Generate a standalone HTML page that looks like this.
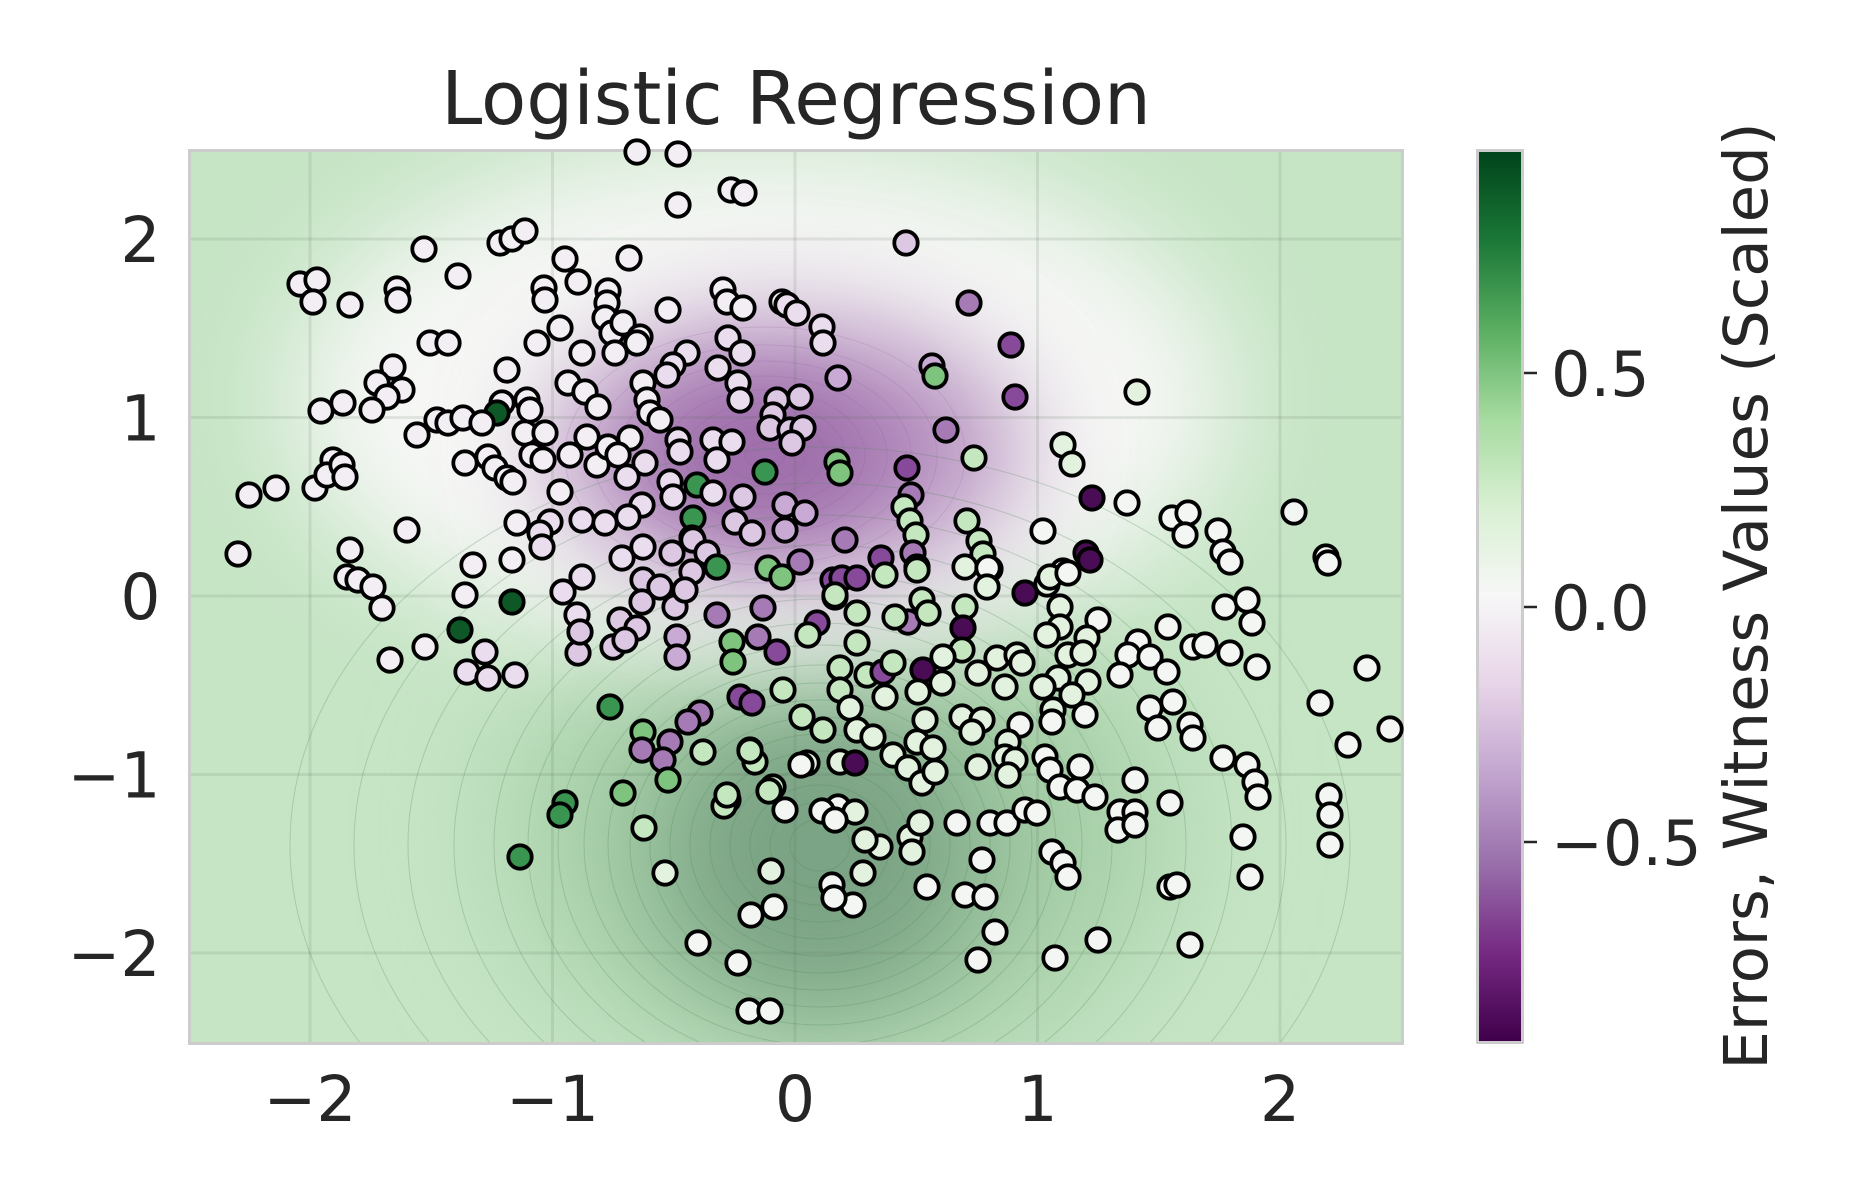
<!DOCTYPE html>
<html><head><meta charset="utf-8"><style>
html,body{margin:0;padding:0;background:#fff}
svg{display:block}
.pts circle{stroke:#000;stroke-width:3.8px}
.w{fill:#f2eef4}.wg{fill:#f4f6f3}.l{fill:#e9ddee}.lm{fill:#dcc8e3}.pl{fill:#c9aad4}.pm{fill:#a67bb5}.p2{fill:#87499a}.p3{fill:#4a0c55}
.gp{fill:#e2f2de}.g1{fill:#c5e7c0}.g2{fill:#7fc47e}.g3{fill:#3a9550}.g4{fill:#0e5726}
text{font-family:"DejaVu Sans","Liberation Sans",sans-serif;fill:#262626}
</style></head><body>
<svg width="1860" height="1200" viewBox="0 0 1860 1200" xmlns="http://www.w3.org/2000/svg">
<defs>
<clipPath id="pc"><rect x="191" y="152" width="1210" height="890"/></clipPath>
<filter id="b70" x="-50%" y="-50%" width="200%" height="200%"><feGaussianBlur stdDeviation="70"/></filter>
<filter id="b55" x="-50%" y="-50%" width="200%" height="200%"><feGaussianBlur stdDeviation="55"/></filter>
<filter id="b40" x="-50%" y="-50%" width="200%" height="200%"><feGaussianBlur stdDeviation="40"/></filter>
<linearGradient id="cb" x1="0" y1="1" x2="0" y2="0">
<stop offset="0" stop-color="#40004b"/><stop offset="0.1" stop-color="#762a83"/><stop offset="0.2" stop-color="#9970ab"/><stop offset="0.3" stop-color="#c2a5cf"/><stop offset="0.4" stop-color="#e7d4e8"/><stop offset="0.5" stop-color="#f7f7f7"/><stop offset="0.6" stop-color="#d9f0d3"/><stop offset="0.7" stop-color="#a6dba0"/><stop offset="0.8" stop-color="#5aae61"/><stop offset="0.9" stop-color="#1b7837"/><stop offset="1" stop-color="#00441b"/>
</linearGradient>
</defs>

<g clip-path="url(#pc)">
<rect x="180" y="140" width="1240" height="920" fill="#c6e5c5"/>
<ellipse cx="840" cy="830" rx="330" ry="240" fill="#a4cda6" filter="url(#b70)"/>
<ellipse cx="820" cy="855" rx="160" ry="160" fill="#7aa384" filter="url(#b55)"/>
<ellipse cx="760" cy="400" rx="470" ry="255" fill="#f6f7f5" filter="url(#b55)"/>
<ellipse cx="785" cy="450" rx="235" ry="130" fill="#b48dbe" filter="url(#b55)"/>
<ellipse cx="765" cy="455" rx="120" ry="75" fill="#9e6eaa" filter="url(#b40)"/>
<g fill="none" stroke="#4f8a5b" stroke-opacity="0.28" stroke-width="1">
<ellipse cx="820" cy="845" rx="30" ry="26"/><ellipse cx="820" cy="845" rx="50" ry="43"/><ellipse cx="820" cy="845" rx="70" ry="60"/><ellipse cx="820" cy="845" rx="90" ry="77"/><ellipse cx="820" cy="845" rx="110" ry="94"/><ellipse cx="820" cy="845" rx="130" ry="111"/><ellipse cx="820" cy="845" rx="150" ry="128"/><ellipse cx="820" cy="845" rx="170" ry="145"/><ellipse cx="820" cy="845" rx="190" ry="162"/><ellipse cx="820" cy="845" rx="212" ry="180"/><ellipse cx="820" cy="845" rx="236" ry="200"/><ellipse cx="820" cy="845" rx="262" ry="222"/><ellipse cx="820" cy="845" rx="292" ry="246"/><ellipse cx="820" cy="845" rx="326" ry="272"/><ellipse cx="820" cy="845" rx="366" ry="300"/><ellipse cx="820" cy="845" rx="412" ry="330"/><ellipse cx="820" cy="845" rx="466" ry="362"/><ellipse cx="820" cy="845" rx="530" ry="398"/>
</g>
<g fill="none" stroke="#8a5597" stroke-opacity="0.18" stroke-width="0.9">
<ellipse cx="765" cy="455" rx="20" ry="13"/><ellipse cx="765" cy="455" rx="40" ry="26"/><ellipse cx="765" cy="455" rx="60" ry="39"/><ellipse cx="765" cy="455" rx="80" ry="52"/><ellipse cx="765" cy="455" rx="100" ry="65"/><ellipse cx="765" cy="455" rx="122" ry="79"/><ellipse cx="765" cy="455" rx="146" ry="94"/><ellipse cx="765" cy="455" rx="172" ry="110"/><ellipse cx="765" cy="455" rx="200" ry="128"/>
</g>
<g stroke="#5a6e5a" stroke-opacity="0.14" stroke-width="3">
<line x1="310" y1="150" x2="310" y2="1045"/><line x1="552.5" y1="150" x2="552.5" y2="1045"/><line x1="795" y1="150" x2="795" y2="1045"/><line x1="1037.5" y1="150" x2="1037.5" y2="1045"/><line x1="1280" y1="150" x2="1280" y2="1045"/>
<line x1="188" y1="239" x2="1404" y2="239"/><line x1="188" y1="417.5" x2="1404" y2="417.5"/><line x1="188" y1="596" x2="1404" y2="596"/><line x1="188" y1="774.5" x2="1404" y2="774.5"/><line x1="188" y1="953" x2="1404" y2="953"/>
</g>
</g>
<rect x="189.5" y="150.5" width="1213" height="893" fill="none" stroke="#cccccc" stroke-width="3"/>

<g class="pts">
<circle cx="637" cy="152" r="11.7" class="w"/><circle cx="678" cy="154" r="11.7" class="w"/><circle cx="731" cy="190" r="11.7" class="w"/><circle cx="744" cy="193" r="11.7" class="w"/><circle cx="678" cy="205" r="11.7" class="w"/><circle cx="906" cy="243" r="11.7" class="lm"/><circle cx="424" cy="249" r="11.7" class="w"/><circle cx="500" cy="243" r="11.7" class="w"/><circle cx="512" cy="239" r="11.7" class="w"/><circle cx="525" cy="231" r="11.7" class="w"/><circle cx="300" cy="284" r="11.7" class="w"/><circle cx="317" cy="280" r="11.7" class="w"/><circle cx="313" cy="302" r="11.7" class="w"/><circle cx="397" cy="289" r="11.7" class="w"/><circle cx="458" cy="276" r="11.7" class="w"/><circle cx="565" cy="259" r="11.7" class="w"/><circle cx="629" cy="258" r="11.7" class="w"/><circle cx="544" cy="288" r="11.7" class="w"/><circle cx="578" cy="282" r="11.7" class="w"/><circle cx="608" cy="291" r="11.7" class="w"/><circle cx="723" cy="290" r="11.7" class="w"/><circle cx="782" cy="302" r="11.7" class="w"/>
<circle cx="321" cy="411" r="11.7" class="w"/><circle cx="333" cy="460" r="11.7" class="w"/><circle cx="315" cy="488" r="11.7" class="w"/><circle cx="327" cy="475" r="11.7" class="w"/><circle cx="249" cy="495" r="11.7" class="w"/><circle cx="276" cy="488" r="11.7" class="w"/><circle cx="238" cy="554" r="11.7" class="w"/>
<circle cx="350" cy="305" r="11.7" class="w"/><circle cx="398" cy="300" r="11.7" class="w"/><circle cx="545" cy="300" r="11.7" class="w"/><circle cx="607" cy="303" r="11.7" class="w"/><circle cx="668" cy="310" r="11.7" class="w"/><circle cx="727" cy="302" r="11.7" class="w"/><circle cx="743" cy="308" r="11.7" class="w"/><circle cx="787" cy="305" r="11.7" class="l"/><circle cx="797" cy="313" r="11.7" class="l"/><circle cx="822" cy="327" r="11.7" class="l"/><circle cx="823" cy="343" r="11.7" class="l"/><circle cx="430" cy="343" r="11.7" class="w"/><circle cx="448" cy="343" r="11.7" class="w"/><circle cx="537" cy="343" r="11.7" class="w"/><circle cx="560" cy="328" r="11.7" class="w"/><circle cx="605" cy="318" r="11.7" class="w"/><circle cx="612" cy="333" r="11.7" class="w"/><circle cx="623" cy="323" r="11.7" class="w"/><circle cx="640" cy="337" r="11.7" class="w"/><circle cx="637" cy="343" r="11.7" class="w"/><circle cx="615" cy="353" r="11.7" class="w"/><circle cx="582" cy="353" r="11.7" class="w"/><circle cx="687" cy="353" r="11.7" class="l"/><circle cx="673" cy="365" r="11.7" class="l"/><circle cx="667" cy="375" r="11.7" class="l"/><circle cx="728" cy="338" r="11.7" class="l"/><circle cx="742" cy="353" r="11.7" class="l"/><circle cx="718" cy="368" r="11.7" class="l"/><circle cx="738" cy="383" r="11.7" class="l"/><circle cx="740" cy="400" r="11.7" class="l"/><circle cx="838" cy="378" r="11.7" class="pl"/>
<circle cx="393" cy="367" r="11.7" class="w"/><circle cx="377" cy="383" r="11.7" class="w"/><circle cx="402" cy="390" r="11.7" class="w"/><circle cx="387" cy="397" r="11.7" class="w"/><circle cx="372" cy="410" r="11.7" class="w"/><circle cx="343" cy="403" r="11.7" class="w"/><circle cx="507" cy="370" r="11.7" class="w"/><circle cx="568" cy="383" r="11.7" class="w"/><circle cx="585" cy="392" r="11.7" class="w"/><circle cx="598" cy="407" r="11.7" class="w"/><circle cx="643" cy="383" r="11.7" class="w"/><circle cx="647" cy="400" r="11.7" class="w"/><circle cx="650" cy="413" r="11.7" class="w"/><circle cx="660" cy="420" r="11.7" class="w"/><circle cx="777" cy="400" r="11.7" class="lm"/><circle cx="800" cy="397" r="11.7" class="lm"/><circle cx="773" cy="415" r="11.7" class="lm"/><circle cx="770" cy="428" r="11.7" class="lm"/><circle cx="790" cy="430" r="11.7" class="lm"/><circle cx="803" cy="428" r="11.7" class="lm"/><circle cx="792" cy="443" r="11.7" class="lm"/>
<circle cx="502" cy="403" r="11.7" class="w"/><circle cx="497" cy="413" r="11.7" class="g4"/><circle cx="527" cy="400" r="11.7" class="w"/><circle cx="530" cy="410" r="11.7" class="w"/><circle cx="417" cy="435" r="11.7" class="w"/><circle cx="437" cy="420" r="11.7" class="w"/><circle cx="448" cy="423" r="11.7" class="w"/><circle cx="463" cy="418" r="11.7" class="w"/><circle cx="482" cy="423" r="11.7" class="w"/><circle cx="525" cy="433" r="11.7" class="w"/><circle cx="545" cy="433" r="11.7" class="w"/><circle cx="532" cy="455" r="11.7" class="w"/><circle cx="543" cy="460" r="11.7" class="w"/><circle cx="587" cy="437" r="11.7" class="w"/><circle cx="570" cy="455" r="11.7" class="w"/><circle cx="597" cy="465" r="11.7" class="w"/><circle cx="630" cy="438" r="11.7" class="w"/><circle cx="608" cy="447" r="11.7" class="w"/><circle cx="618" cy="455" r="11.7" class="w"/><circle cx="678" cy="440" r="11.7" class="l"/><circle cx="680" cy="452" r="11.7" class="l"/><circle cx="713" cy="440" r="11.7" class="l"/><circle cx="732" cy="442" r="11.7" class="l"/><circle cx="717" cy="460" r="11.7" class="l"/>
<circle cx="465" cy="463" r="11.7" class="w"/><circle cx="488" cy="457" r="11.7" class="w"/><circle cx="495" cy="468" r="11.7" class="w"/><circle cx="507" cy="478" r="11.7" class="w"/><circle cx="513" cy="482" r="11.7" class="w"/><circle cx="560" cy="492" r="11.7" class="w"/><circle cx="645" cy="463" r="11.7" class="l"/><circle cx="627" cy="477" r="11.7" class="l"/><circle cx="670" cy="482" r="11.7" class="l"/><circle cx="697" cy="485" r="11.7" class="g3"/><circle cx="765" cy="472" r="11.7" class="g3"/><circle cx="713" cy="493" r="11.7" class="l"/><circle cx="743" cy="497" r="11.7" class="lm"/><circle cx="837" cy="462" r="11.7" class="g2"/><circle cx="840" cy="473" r="11.7" class="g2"/><circle cx="342" cy="465" r="11.7" class="w"/><circle cx="345" cy="477" r="11.7" class="w"/>
<circle cx="517" cy="523" r="11.7" class="w"/><circle cx="550" cy="522" r="11.7" class="l"/><circle cx="540" cy="533" r="11.7" class="l"/><circle cx="542" cy="547" r="11.7" class="l"/><circle cx="582" cy="520" r="11.7" class="l"/><circle cx="605" cy="523" r="11.7" class="l"/><circle cx="642" cy="505" r="11.7" class="l"/><circle cx="628" cy="517" r="11.7" class="l"/><circle cx="673" cy="497" r="11.7" class="l"/><circle cx="693" cy="518" r="11.7" class="g3"/><circle cx="692" cy="538" r="11.7" class="lm"/><circle cx="735" cy="522" r="11.7" class="lm"/><circle cx="752" cy="533" r="11.7" class="lm"/><circle cx="785" cy="505" r="11.7" class="pl"/><circle cx="805" cy="513" r="11.7" class="pl"/><circle cx="785" cy="530" r="11.7" class="pl"/><circle cx="845" cy="540" r="11.7" class="pm"/>
<circle cx="407" cy="530" r="11.7" class="w"/><circle cx="350" cy="550" r="11.7" class="w"/><circle cx="473" cy="565" r="11.7" class="w"/><circle cx="512" cy="560" r="11.7" class="w"/><circle cx="643" cy="547" r="11.7" class="l"/><circle cx="622" cy="558" r="11.7" class="l"/><circle cx="672" cy="553" r="11.7" class="lm"/><circle cx="693" cy="540" r="11.7" class="lm"/><circle cx="707" cy="553" r="11.7" class="lm"/><circle cx="717" cy="567" r="11.7" class="g3"/><circle cx="692" cy="572" r="11.7" class="lm"/><circle cx="563" cy="592" r="11.7" class="l"/><circle cx="582" cy="577" r="11.7" class="l"/><circle cx="643" cy="580" r="11.7" class="lm"/><circle cx="660" cy="587" r="11.7" class="lm"/><circle cx="642" cy="602" r="11.7" class="lm"/><circle cx="675" cy="607" r="11.7" class="lm"/><circle cx="685" cy="590" r="11.7" class="lm"/><circle cx="768" cy="568" r="11.7" class="g2"/><circle cx="782" cy="577" r="11.7" class="g2"/><circle cx="800" cy="562" r="11.7" class="pm"/><circle cx="833" cy="580" r="11.7" class="p2"/><circle cx="835" cy="597" r="11.7" class="g1"/>
<circle cx="347" cy="577" r="11.7" class="w"/><circle cx="358" cy="580" r="11.7" class="w"/><circle cx="373" cy="587" r="11.7" class="w"/><circle cx="382" cy="608" r="11.7" class="w"/><circle cx="465" cy="595" r="11.7" class="w"/><circle cx="512" cy="602" r="11.7" class="g4"/><circle cx="577" cy="615" r="11.7" class="l"/><circle cx="620" cy="620" r="11.7" class="lm"/><circle cx="637" cy="628" r="11.7" class="lm"/><circle cx="717" cy="615" r="11.7" class="pm"/><circle cx="763" cy="608" r="11.7" class="pm"/><circle cx="817" cy="623" r="11.7" class="p2"/><circle cx="808" cy="635" r="11.7" class="g1"/>
<circle cx="460" cy="630" r="11.7" class="g4"/><circle cx="425" cy="647" r="11.7" class="w"/><circle cx="390" cy="660" r="11.7" class="w"/><circle cx="485" cy="652" r="11.7" class="l"/><circle cx="467" cy="672" r="11.7" class="l"/><circle cx="488" cy="678" r="11.7" class="l"/><circle cx="515" cy="675" r="11.7" class="l"/><circle cx="578" cy="653" r="11.7" class="lm"/><circle cx="580" cy="632" r="11.7" class="lm"/><circle cx="613" cy="647" r="11.7" class="lm"/><circle cx="625" cy="640" r="11.7" class="lm"/><circle cx="677" cy="637" r="11.7" class="pl"/><circle cx="677" cy="657" r="11.7" class="pl"/><circle cx="732" cy="642" r="11.7" class="g2"/><circle cx="733" cy="662" r="11.7" class="g2"/><circle cx="758" cy="637" r="11.7" class="pm"/><circle cx="777" cy="652" r="11.7" class="p2"/><circle cx="840" cy="668" r="11.7" class="g1"/><circle cx="840" cy="690" r="11.7" class="g1"/><circle cx="783" cy="690" r="11.7" class="g1"/><circle cx="740" cy="697" r="11.7" class="p2"/><circle cx="752" cy="703" r="11.7" class="p2"/>
<circle cx="610" cy="707" r="11.7" class="g3"/><circle cx="700" cy="713" r="11.7" class="pm"/><circle cx="688" cy="722" r="11.7" class="pm"/><circle cx="643" cy="732" r="11.7" class="g2"/><circle cx="670" cy="742" r="11.7" class="pm"/><circle cx="642" cy="750" r="11.7" class="pm"/><circle cx="663" cy="760" r="11.7" class="pm"/><circle cx="668" cy="780" r="11.7" class="g2"/><circle cx="703" cy="752" r="11.7" class="g1"/><circle cx="750" cy="750" r="11.7" class="g1"/><circle cx="755" cy="762" r="11.7" class="g1"/><circle cx="802" cy="717" r="11.7" class="g1"/><circle cx="823" cy="730" r="11.7" class="g1"/><circle cx="807" cy="763" r="11.7" class="gp"/><circle cx="840" cy="762" r="11.7" class="gp"/><circle cx="623" cy="793" r="11.7" class="g2"/><circle cx="565" cy="803" r="11.7" class="g3"/><circle cx="560" cy="815" r="11.7" class="g3"/><circle cx="773" cy="787" r="11.7" class="g1"/><circle cx="728" cy="800" r="11.7" class="g1"/><circle cx="838" cy="807" r="11.7" class="wg"/>
<circle cx="969" cy="303" r="11.7" class="pm"/><circle cx="1011" cy="345" r="11.7" class="p2"/><circle cx="1015" cy="397" r="11.7" class="p2"/><circle cx="932" cy="366" r="11.7" class="pl"/><circle cx="935" cy="376" r="11.7" class="g2"/><circle cx="1137" cy="392" r="11.7" class="gp"/><circle cx="946" cy="430" r="11.7" class="pm"/><circle cx="974" cy="458" r="11.7" class="g1"/><circle cx="1063" cy="445" r="11.7" class="gp"/><circle cx="1072" cy="464" r="11.7" class="gp"/><circle cx="1092" cy="498" r="11.7" class="p3"/><circle cx="1127" cy="503" r="11.7" class="wg"/><circle cx="1172" cy="518" r="11.7" class="wg"/><circle cx="1188" cy="513" r="11.7" class="wg"/><circle cx="1185" cy="535" r="11.7" class="wg"/><circle cx="1218" cy="531" r="11.7" class="wg"/><circle cx="1223" cy="552" r="11.7" class="wg"/><circle cx="1294" cy="512" r="11.7" class="wg"/><circle cx="1326" cy="557" r="11.7" class="wg"/><circle cx="1043" cy="531" r="11.7" class="wg"/><circle cx="1047" cy="584" r="11.7" class="gp"/><circle cx="1063" cy="571" r="11.7" class="wg"/><circle cx="1086" cy="553" r="11.7" class="p3"/>
<circle cx="907" cy="468" r="11.7" class="p2"/><circle cx="911" cy="495" r="11.7" class="pm"/><circle cx="904" cy="507" r="11.7" class="g1"/><circle cx="910" cy="521" r="11.7" class="g1"/><circle cx="916" cy="535" r="11.7" class="g1"/><circle cx="967" cy="521" r="11.7" class="g1"/><circle cx="979" cy="541" r="11.7" class="g1"/><circle cx="983" cy="554" r="11.7" class="g1"/><circle cx="990" cy="569" r="11.7" class="wg"/><circle cx="881" cy="558" r="11.7" class="p2"/><circle cx="913" cy="553" r="11.7" class="pm"/><circle cx="917" cy="567" r="11.7" class="g1"/><circle cx="842" cy="578" r="11.7" class="p2"/><circle cx="857" cy="578" r="11.7" class="p2"/><circle cx="835" cy="595" r="11.7" class="g1"/>
<circle cx="885" cy="575" r="11.7" class="g1"/><circle cx="917" cy="570" r="11.7" class="g1"/><circle cx="965" cy="567" r="11.7" class="gp"/><circle cx="988" cy="568" r="11.7" class="wg"/><circle cx="987" cy="587" r="11.7" class="gp"/><circle cx="1025" cy="593" r="11.7" class="p3"/><circle cx="1050" cy="577" r="11.7" class="gp"/><circle cx="1068" cy="573" r="11.7" class="wg"/><circle cx="1090" cy="560" r="11.7" class="p3"/><circle cx="1230" cy="562" r="11.7" class="wg"/><circle cx="1328" cy="563" r="11.7" class="wg"/><circle cx="922" cy="600" r="11.7" class="g1"/><circle cx="908" cy="622" r="11.7" class="pm"/><circle cx="928" cy="613" r="11.7" class="g1"/><circle cx="895" cy="617" r="11.7" class="g1"/><circle cx="857" cy="613" r="11.7" class="g1"/><circle cx="965" cy="607" r="11.7" class="g1"/><circle cx="963" cy="628" r="11.7" class="p3"/><circle cx="857" cy="643" r="11.7" class="g1"/><circle cx="1060" cy="607" r="11.7" class="gp"/><circle cx="1060" cy="627" r="11.7" class="gp"/><circle cx="1047" cy="635" r="11.7" class="gp"/><circle cx="1098" cy="620" r="11.7" class="wg"/><circle cx="1087" cy="638" r="11.7" class="gp"/><circle cx="1168" cy="627" r="11.7" class="wg"/><circle cx="1225" cy="607" r="11.7" class="wg"/><circle cx="1247" cy="600" r="11.7" class="wg"/><circle cx="1252" cy="623" r="11.7" class="wg"/>
<circle cx="962" cy="650" r="11.7" class="g1"/><circle cx="943" cy="657" r="11.7" class="gp"/><circle cx="997" cy="658" r="11.7" class="gp"/><circle cx="1017" cy="655" r="11.7" class="gp"/><circle cx="1022" cy="663" r="11.7" class="gp"/><circle cx="1068" cy="655" r="11.7" class="gp"/><circle cx="1083" cy="653" r="11.7" class="gp"/><circle cx="1138" cy="642" r="11.7" class="wg"/><circle cx="1128" cy="655" r="11.7" class="wg"/><circle cx="1150" cy="657" r="11.7" class="wg"/><circle cx="1167" cy="672" r="11.7" class="wg"/><circle cx="1193" cy="647" r="11.7" class="wg"/><circle cx="1205" cy="645" r="11.7" class="wg"/><circle cx="1230" cy="653" r="11.7" class="wg"/><circle cx="1257" cy="667" r="11.7" class="wg"/><circle cx="1367" cy="668" r="11.7" class="wg"/>
<circle cx="867" cy="675" r="11.7" class="g1"/><circle cx="883" cy="672" r="11.7" class="p2"/><circle cx="893" cy="663" r="11.7" class="g1"/><circle cx="923" cy="670" r="11.7" class="p3"/><circle cx="918" cy="692" r="11.7" class="gp"/><circle cx="942" cy="683" r="11.7" class="gp"/><circle cx="978" cy="673" r="11.7" class="gp"/><circle cx="1005" cy="687" r="11.7" class="gp"/><circle cx="1058" cy="678" r="11.7" class="gp"/><circle cx="1043" cy="687" r="11.7" class="gp"/><circle cx="1088" cy="682" r="11.7" class="gp"/><circle cx="1072" cy="695" r="11.7" class="gp"/><circle cx="1053" cy="710" r="11.7" class="gp"/><circle cx="1052" cy="722" r="11.7" class="wg"/><circle cx="1085" cy="715" r="11.7" class="wg"/><circle cx="1120" cy="675" r="11.7" class="wg"/><circle cx="1150" cy="708" r="11.7" class="wg"/><circle cx="1173" cy="702" r="11.7" class="wg"/><circle cx="1158" cy="728" r="11.7" class="wg"/><circle cx="1190" cy="725" r="11.7" class="wg"/><circle cx="1193" cy="738" r="11.7" class="wg"/><circle cx="1320" cy="703" r="11.7" class="wg"/><circle cx="1348" cy="745" r="11.7" class="wg"/><circle cx="1390" cy="729" r="11.7" class="wg"/>
<circle cx="850" cy="708" r="11.7" class="gp"/><circle cx="885" cy="697" r="11.7" class="gp"/><circle cx="857" cy="730" r="11.7" class="gp"/><circle cx="873" cy="737" r="11.7" class="gp"/><circle cx="925" cy="720" r="11.7" class="gp"/><circle cx="962" cy="717" r="11.7" class="gp"/><circle cx="982" cy="720" r="11.7" class="gp"/><circle cx="972" cy="732" r="11.7" class="gp"/><circle cx="1020" cy="725" r="11.7" class="wg"/><circle cx="1008" cy="742" r="11.7" class="gp"/><circle cx="917" cy="742" r="11.7" class="gp"/><circle cx="933" cy="748" r="11.7" class="gp"/><circle cx="893" cy="755" r="11.7" class="gp"/><circle cx="855" cy="763" r="11.7" class="p3"/><circle cx="908" cy="768" r="11.7" class="gp"/><circle cx="922" cy="783" r="11.7" class="gp"/><circle cx="935" cy="772" r="11.7" class="gp"/><circle cx="978" cy="767" r="11.7" class="gp"/><circle cx="1005" cy="757" r="11.7" class="gp"/><circle cx="1015" cy="760" r="11.7" class="gp"/><circle cx="1008" cy="775" r="11.7" class="gp"/>
<circle cx="1045" cy="757" r="11.7" class="wg"/><circle cx="1050" cy="770" r="11.7" class="wg"/><circle cx="1080" cy="767" r="11.7" class="wg"/><circle cx="1060" cy="787" r="11.7" class="wg"/><circle cx="1077" cy="790" r="11.7" class="wg"/><circle cx="1095" cy="797" r="11.7" class="wg"/><circle cx="1135" cy="780" r="11.7" class="wg"/><circle cx="1223" cy="758" r="11.7" class="wg"/><circle cx="1247" cy="765" r="11.7" class="wg"/><circle cx="1255" cy="782" r="11.7" class="wg"/><circle cx="1258" cy="797" r="11.7" class="wg"/><circle cx="1170" cy="803" r="11.7" class="wg"/><circle cx="1120" cy="812" r="11.7" class="wg"/><circle cx="1135" cy="812" r="11.7" class="wg"/><circle cx="1118" cy="830" r="11.7" class="wg"/><circle cx="1135" cy="825" r="11.7" class="wg"/><circle cx="1329" cy="796" r="11.7" class="wg"/>
<circle cx="855" cy="812" r="11.7" class="gp"/><circle cx="880" cy="847" r="11.7" class="gp"/><circle cx="865" cy="840" r="11.7" class="gp"/><circle cx="863" cy="873" r="11.7" class="gp"/><circle cx="910" cy="837" r="11.7" class="gp"/><circle cx="912" cy="852" r="11.7" class="gp"/><circle cx="920" cy="823" r="11.7" class="gp"/><circle cx="957" cy="823" r="11.7" class="wg"/><circle cx="990" cy="823" r="11.7" class="wg"/><circle cx="1007" cy="823" r="11.7" class="wg"/><circle cx="1025" cy="810" r="11.7" class="wg"/><circle cx="1037" cy="813" r="11.7" class="wg"/><circle cx="982" cy="860" r="11.7" class="wg"/><circle cx="1052" cy="852" r="11.7" class="wg"/><circle cx="1063" cy="863" r="11.7" class="wg"/><circle cx="1068" cy="877" r="11.7" class="wg"/><circle cx="1330" cy="815" r="11.7" class="wg"/><circle cx="1330" cy="845" r="11.7" class="wg"/><circle cx="1243" cy="837" r="11.7" class="wg"/><circle cx="1250" cy="877" r="11.7" class="wg"/><circle cx="1170" cy="887" r="11.7" class="wg"/><circle cx="1177" cy="885" r="11.7" class="wg"/><circle cx="927" cy="887" r="11.7" class="wg"/><circle cx="965" cy="895" r="11.7" class="wg"/><circle cx="985" cy="897" r="11.7" class="wg"/><circle cx="853" cy="905" r="11.7" class="wg"/><circle cx="995" cy="932" r="11.7" class="wg"/><circle cx="1098" cy="940" r="11.7" class="wg"/><circle cx="1190" cy="945" r="11.7" class="wg"/><circle cx="978" cy="960" r="11.7" class="wg"/><circle cx="1055" cy="958" r="11.7" class="wg"/>
<circle cx="520" cy="857" r="11.7" class="g3"/><circle cx="644" cy="828" r="11.7" class="g1"/><circle cx="665" cy="873" r="11.7" class="gp"/><circle cx="698" cy="943" r="11.7" class="wg"/><circle cx="738" cy="963" r="11.7" class="wg"/><circle cx="749" cy="1011" r="11.7" class="wg"/><circle cx="770" cy="1011" r="11.7" class="wg"/><circle cx="751" cy="915" r="11.7" class="wg"/><circle cx="774" cy="907" r="11.7" class="wg"/><circle cx="771" cy="871" r="11.7" class="gp"/><circle cx="785" cy="810" r="11.7" class="wg"/><circle cx="769" cy="791" r="11.7" class="g1"/><circle cx="724" cy="806" r="11.7" class="g1"/><circle cx="727" cy="795" r="11.7" class="g1"/><circle cx="750" cy="751" r="11.7" class="g1"/><circle cx="801" cy="765" r="11.7" class="wg"/><circle cx="822" cy="811" r="11.7" class="wg"/><circle cx="835" cy="820" r="11.7" class="wg"/><circle cx="832" cy="885" r="11.7" class="wg"/><circle cx="834" cy="898" r="11.7" class="wg"/>
</g>

<text x="310" y="1121" font-size="63" text-anchor="middle">−2</text>
<text x="552.5" y="1121" font-size="63" text-anchor="middle">−1</text>
<text x="795" y="1121" font-size="63" text-anchor="middle">0</text>
<text x="1037.5" y="1121" font-size="63" text-anchor="middle">1</text>
<text x="1280" y="1121" font-size="63" text-anchor="middle">2</text>
<text x="160.5" y="262" font-size="63" text-anchor="end">2</text>
<text x="160.5" y="440.5" font-size="63" text-anchor="end">1</text>
<text x="160.5" y="619" font-size="63" text-anchor="end">0</text>
<text x="160.5" y="797.5" font-size="63" text-anchor="end">−1</text>
<text x="160.5" y="976" font-size="63" text-anchor="end">−2</text>

<text x="796" y="124" font-size="74" text-anchor="middle">Logistic Regression</text>

<rect x="1479" y="152" width="42" height="889" fill="url(#cb)"/>
<rect x="1477.5" y="150.5" width="45" height="892" fill="none" stroke="#cccccc" stroke-width="3"/>
<g stroke="#262626" stroke-width="2.5">
<line x1="1524" y1="373" x2="1537" y2="373"/><line x1="1524" y1="607" x2="1537" y2="607"/><line x1="1524" y1="842" x2="1537" y2="842"/>
</g>
<text x="1551" y="396" font-size="62">0.5</text>
<text x="1551" y="630" font-size="62">0.0</text>
<text x="1551" y="865" font-size="62">−0.5</text>
<text transform="translate(1767,596) rotate(-90)" font-size="61" text-anchor="middle">Errors, Witness Values (Scaled)</text>
</svg>
</body></html>
